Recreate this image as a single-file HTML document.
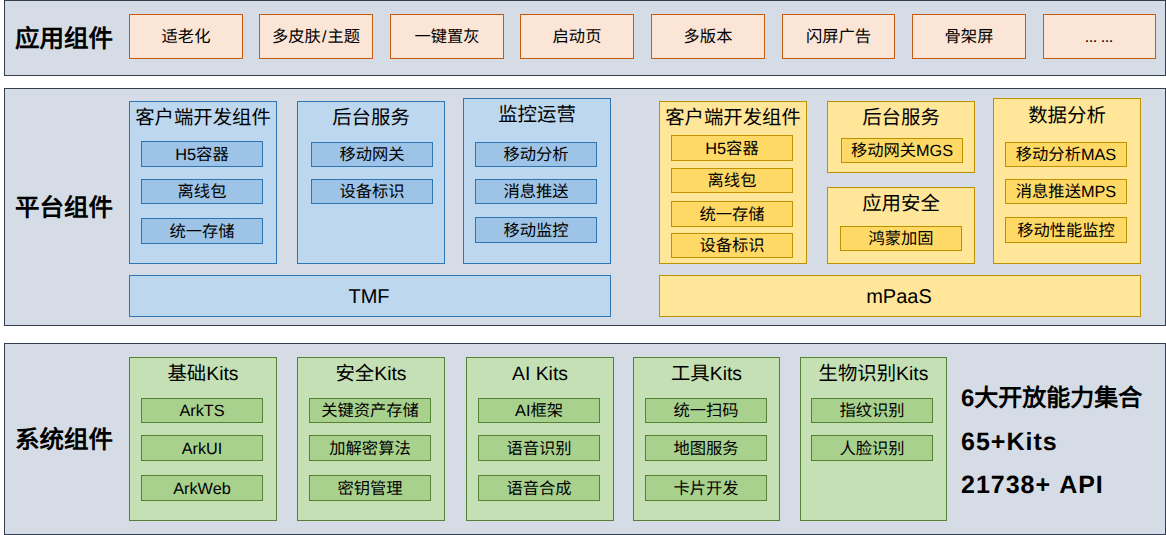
<!DOCTYPE html>
<html lang="zh-CN">
<head>
<meta charset="utf-8">
<title>组件架构</title>
<style>
html,body{margin:0;padding:0;}
body{width:1166px;height:535px;position:relative;overflow:hidden;background:#fff;
 font-family:"Liberation Sans",sans-serif;color:#000;text-rendering:geometricPrecision;}
div{position:absolute;box-sizing:border-box;white-space:nowrap;}
.band{background:#d6dce5;border:1px solid #333f50;}
.bt{font-size:24.5px;font-weight:bold;line-height:30px;height:30px;}
.o{background:#fbe5d6;border:1px solid #c55a11;}
.b{background:#bdd7ee;border:1px solid #2e75b6;}
.bi{background:#9dc3e6;border:1px solid #2e75b6;}
.y{background:#ffe699;border:1px solid #bf9000;}
.yi{background:#ffd966;border:1px solid #bf9000;}
.g{background:#c5e0b4;border:1px solid #548235;}
.gi{background:#a9d18e;border:1px solid #548235;}
.o,.bi,.yi,.gi{font-size:16.3px;line-height:20px;display:flex;align-items:center;justify-content:center;padding-top:1px;}
.t{font-size:19.4px;text-align:center;}
.big{font-size:24px;font-weight:bold;line-height:30px;height:30px;}
.big .l{font-size:25px;letter-spacing:1px;word-spacing:1px;}
</style>
</head>
<body>
<div class="band" style="left:4px;top:0px;width:1162px;height:76px;"></div>
<div class="band" style="left:4px;top:88px;width:1162px;height:238px;"></div>
<div class="band" style="left:4px;top:343px;width:1162px;height:192px;"></div>
<div class="bt" style="left:15px;top:24.5px;">应用组件</div>
<div class="bt" style="left:15px;top:194px;">平台组件</div>
<div class="bt" style="left:15px;top:426px;">系统组件</div>
<div class="o" style="left:129px;top:14px;width:114px;height:45px;">适老化</div>
<div class="o" style="left:259px;top:14px;width:114px;height:45px;"><span>多皮肤<span style="padding:0 1px">/</span>主题</span></div>
<div class="o" style="left:390px;top:14px;width:114px;height:45px;">一键置灰</div>
<div class="o" style="left:520px;top:14px;width:114px;height:45px;">启动页</div>
<div class="o" style="left:651px;top:14px;width:114px;height:45px;">多版本</div>
<div class="o" style="left:782px;top:14px;width:113px;height:45px;">闪屏广告</div>
<div class="o" style="left:912px;top:14px;width:114px;height:45px;">骨架屏</div>
<div class="o" style="left:1043px;top:14px;width:113px;height:45px;letter-spacing:-0.53px;padding-top:0;padding-right:1.5px;">... ...</div>
<div class="b" style="left:129px;top:101px;width:148px;height:163px;"></div>
<div class="b" style="left:297px;top:101px;width:148px;height:163px;"></div>
<div class="b" style="left:463px;top:98px;width:148px;height:166px;"></div>
<div class="t" style="left:129px;top:103.0px;width:148px;height:30px;line-height:30px;">客户端开发组件</div>
<div class="t" style="left:297px;top:103.0px;width:148px;height:30px;line-height:30px;">后台服务</div>
<div class="t" style="left:463px;top:100.0px;width:148px;height:30px;line-height:30px;">监控运营</div>
<div class="bi" style="left:141px;top:141px;width:122px;height:26px;">H5容器</div>
<div class="bi" style="left:141px;top:179px;width:122px;height:25px;">离线包</div>
<div class="bi" style="left:141px;top:218px;width:122px;height:26px;">统一存储</div>
<div class="bi" style="left:311px;top:142px;width:122px;height:25px;">移动网关</div>
<div class="bi" style="left:311px;top:179px;width:122px;height:25px;">设备标识</div>
<div class="bi" style="left:475px;top:142px;width:122px;height:25px;">移动分析</div>
<div class="bi" style="left:475px;top:179px;width:122px;height:25px;">消息推送</div>
<div class="bi" style="left:475px;top:217px;width:122px;height:26px;">移动监控</div>
<div class="b" style="left:129px;top:275px;width:482px;height:42px;"></div>
<div class="t" style="left:129px;top:281.5px;width:482px;height:30px;line-height:30px;font-size:20px;padding-right:2px;">TMF</div>
<div class="y" style="left:659px;top:101px;width:148px;height:163px;"></div>
<div class="y" style="left:827px;top:101px;width:148px;height:72px;"></div>
<div class="y" style="left:827px;top:187px;width:148px;height:77px;"></div>
<div class="y" style="left:993px;top:98px;width:148px;height:166px;"></div>
<div class="t" style="left:659px;top:103.0px;width:148px;height:30px;line-height:30px;">客户端开发组件</div>
<div class="t" style="left:827px;top:103.0px;width:148px;height:30px;line-height:30px;">后台服务</div>
<div class="t" style="left:827px;top:189.0px;width:148px;height:30px;line-height:30px;">应用安全</div>
<div class="t" style="left:993px;top:100.8px;width:148px;height:30px;line-height:30px;">数据分析</div>
<div class="yi" style="left:671px;top:135px;width:122px;height:26px;">H5容器</div>
<div class="yi" style="left:671px;top:168px;width:122px;height:25px;">离线包</div>
<div class="yi" style="left:671px;top:201px;width:122px;height:26px;">统一存储</div>
<div class="yi" style="left:671px;top:233px;width:122px;height:25px;">设备标识</div>
<div class="yi" style="left:841px;top:138px;width:122px;height:25px;">移动网关MGS</div>
<div class="yi" style="left:840px;top:226px;width:122px;height:25px;">鸿蒙加固</div>
<div class="yi" style="left:1005px;top:142px;width:122px;height:25px;">移动分析MAS</div>
<div class="yi" style="left:1005px;top:179px;width:122px;height:25px;">消息推送MPS</div>
<div class="yi" style="left:1005px;top:217px;width:122px;height:26px;">移动性能监控</div>
<div class="y" style="left:659px;top:275px;width:482px;height:42px;"></div>
<div class="t" style="left:659px;top:281.5px;width:482px;height:30px;line-height:30px;font-size:20px;padding-right:2px;">mPaaS</div>
<div class="g" style="left:129px;top:357px;width:148px;height:164px;"></div>
<div class="t" style="left:129px;top:359.0px;width:148px;height:30px;line-height:30px;">基础Kits</div>
<div class="gi" style="left:141px;top:398px;width:122px;height:25px;">ArkTS</div>
<div class="gi" style="left:141px;top:435px;width:122px;height:26px;">ArkUI</div>
<div class="gi" style="left:141px;top:475px;width:122px;height:26px;">ArkWeb</div>
<div class="g" style="left:297px;top:357px;width:148px;height:164px;"></div>
<div class="t" style="left:297px;top:359.0px;width:148px;height:30px;line-height:30px;">安全Kits</div>
<div class="gi" style="left:309px;top:398px;width:122px;height:25px;">关键资产存储</div>
<div class="gi" style="left:309px;top:435px;width:122px;height:26px;">加解密算法</div>
<div class="gi" style="left:309px;top:475px;width:122px;height:26px;">密钥管理</div>
<div class="g" style="left:466px;top:357px;width:148px;height:164px;"></div>
<div class="t" style="left:466px;top:359.0px;width:148px;height:30px;line-height:30px;">AI Kits</div>
<div class="gi" style="left:478px;top:398px;width:122px;height:25px;">AI框架</div>
<div class="gi" style="left:478px;top:435px;width:122px;height:26px;">语音识别</div>
<div class="gi" style="left:478px;top:475px;width:122px;height:26px;">语音合成</div>
<div class="g" style="left:633px;top:357px;width:147px;height:164px;"></div>
<div class="t" style="left:633px;top:359.0px;width:147px;height:30px;line-height:30px;">工具Kits</div>
<div class="gi" style="left:645px;top:398px;width:122px;height:25px;">统一扫码</div>
<div class="gi" style="left:645px;top:435px;width:122px;height:26px;">地图服务</div>
<div class="gi" style="left:645px;top:475px;width:122px;height:26px;">卡片开发</div>
<div class="g" style="left:800px;top:357px;width:147px;height:164px;"></div>
<div class="t" style="left:800px;top:359.0px;width:147px;height:30px;line-height:30px;">生物识别Kits</div>
<div class="gi" style="left:811px;top:398px;width:122px;height:25px;">指纹识别</div>
<div class="gi" style="left:811px;top:435px;width:122px;height:26px;">人脸识别</div>
<div class="big" style="left:961px;top:384px;">6大开放能力集合</div>
<div class="big" style="left:961px;top:427px;"><span class="l">65+Kits</span></div>
<div class="big" style="left:961px;top:470px;"><span class="l">21738+ API</span></div>
</body>
</html>
